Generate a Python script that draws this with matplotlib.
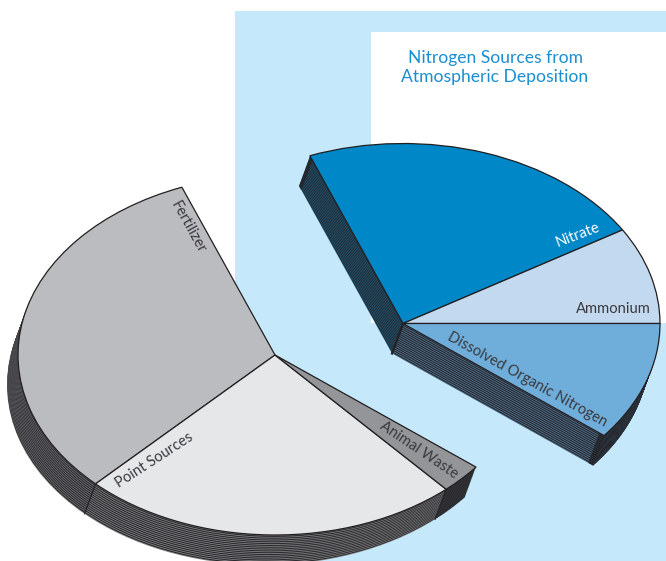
import numpy as np
import matplotlib
matplotlib.use("Agg")
import matplotlib.pyplot as plt
from matplotlib.patches import Rectangle

W, H = 666, 561

# Shares of total nitrogen (percent)
land_sources = ["Fertilizer", "Point Sources", "Animal Waste"]
land_values = [31.8, 23.9, 2.7]
land_colors = ["#bbbcbf", "#e6e7e9", "#939598"]
land_side = ["#6f6f72", "#7c7c7e", "#3a3b3e"]

air_sources = ["Nitrate", "Ammonium", "Dissolved Organic Nitrogen"]
air_values = [22.2, 8.7, 10.7]
air_colors = ["#0087c8", "#c3d9ef", "#6fadda"]
air_side = ["#1f5878", "#2c3c4c", "#4f6d8a"]

title_lines = ["Nitrogen Sources from", "Atmospheric Deposition"]
FONT = "Lato"
START = 111.24
A, B = 257, 180
SHIFT_X, SHIFT_Y = -11, 30
LAYERS = 33
DARK = "#232327"


def pie_axes(fig, cx, cy):
    ax = fig.add_axes([(cx - A) / W, 1 - (cy + B) / H, 2 * A / W, 2 * B / H], zorder=2)
    ax.patch.set_alpha(0)
    return ax


def draw_pie(ax, values, colors, sides, counterclock, rim_dark=False):
    fr = [v / 100 for v in values]
    for k in range(LAYERS, 0, -1):
        t = k / LAYERS
        center = (SHIFT_X * t / A, -SHIFT_Y * t / B)
        cols = sides if k % 2 else [DARK] * len(values)
        ax.pie(fr, colors=cols, startangle=START, counterclock=counterclock,
               normalize=False, radius=1, center=center,
               wedgeprops=dict(linewidth=0, clip_on=False))
        if rim_dark:
            ax.pie(fr, colors=[DARK] * len(values), startangle=START,
                   counterclock=counterclock, normalize=False, radius=1, center=center,
                   wedgeprops=dict(linewidth=0, clip_on=False, width=0.025))
    ax.pie(fr, colors=colors, startangle=START, counterclock=counterclock,
           normalize=False, radius=1, center=(0, 0),
           wedgeprops=dict(linewidth=0.9, edgecolor="#231f20", clip_on=False))
    # dark seams on the side wall, where two wedges meet
    sign = 1 if counterclock else -1
    cum = np.cumsum(fr)[:-1]
    for c in cum:
        th = np.radians(START + sign * 360 * c)
        if np.sin(th) < -0.1:
            x, y = np.cos(th), np.sin(th)
            ax.plot([x, x + SHIFT_X / A], [y, y - SHIFT_Y / B], color=DARK, lw=0.8,
                    clip_on=False)
    ax.set_aspect("auto")
    ax.set_xlim(-1, 1)
    ax.set_ylim(-1, 1)
    ax.axis("off")


fig = plt.figure(figsize=(W / 100, H / 100), dpi=100, facecolor="white")

bg = fig.add_axes([0, 0, 1, 1], zorder=0)
bg.set_xlim(0, W)
bg.set_ylim(H, 0)
bg.axis("off")
bg.add_patch(Rectangle((235, 11), 431, 550, fc="#c5e9fa", ec="none"))
bg.add_patch(Rectangle((371, 32), 295, 291, fc="white", ec="none"))

draw_pie(pie_axes(fig, 275, 355), land_values, land_colors, land_side, True)
ax_air = pie_axes(fig, 403, 323.5)
draw_pie(ax_air, air_values, air_colors, air_side, False, rim_dark=True)
ax_air.plot([0, SHIFT_X / A], [0, -SHIFT_Y / B], color=DARK, lw=1.6, clip_on=False)

top = fig.add_axes([0, 0, 1, 1], zorder=3)
top.patch.set_alpha(0)
top.set_xlim(0, W)
top.set_ylim(H, 0)
top.axis("off")

top.text(495, 58, title_lines[0], color="#1a8fd1", fontsize=12.6, family=FONT,
         ha="center", va="center")
top.text(495, 77, title_lines[1], color="#1a8fd1", fontsize=12.6, family=FONT,
         ha="center", va="center")

label_style = dict(family=FONT, fontsize=10.6, ha="center", va="center",
                   rotation_mode="anchor", color="#3a3a3e")
top.text(188, 227, land_sources[0], rotation=-61, **label_style)
top.text(154, 460, land_sources[1], rotation=33, **label_style)
top.text(419, 450, land_sources[2], rotation=-34, **label_style)
top.text(578, 235, air_sources[0], rotation=21, **{**label_style, "color": "white"})
top.text(613, 309, air_sources[1], rotation=0, **label_style)
top.text(527, 380, air_sources[2], rotation=-29, **label_style)

fig.savefig("out.png", dpi=100, facecolor="white")
